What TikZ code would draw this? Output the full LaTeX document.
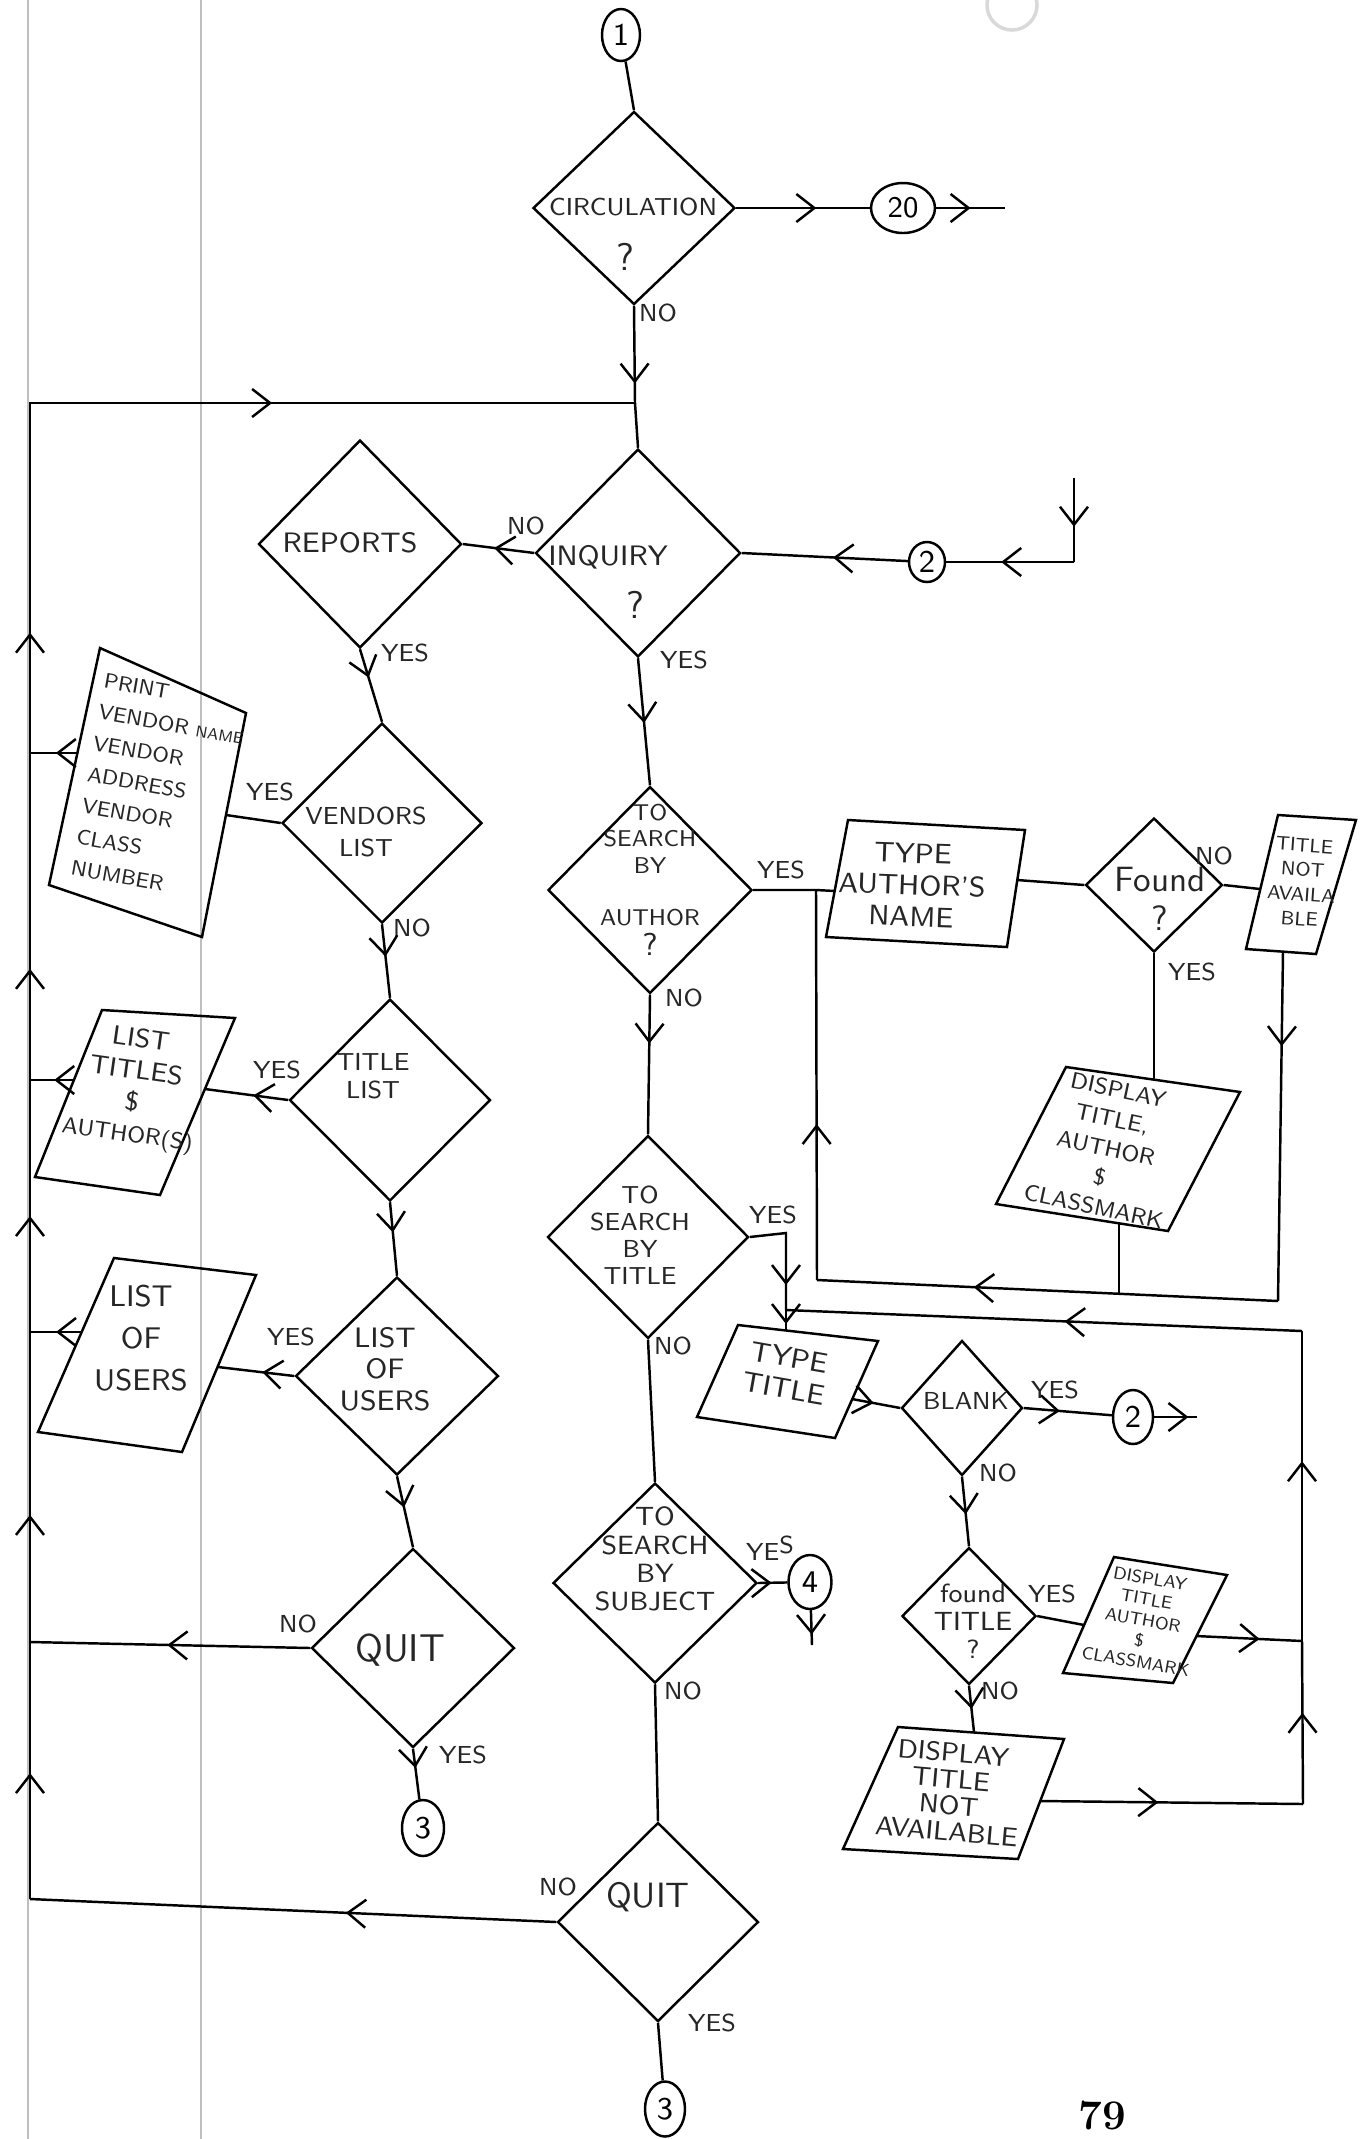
\documentclass[tikz,border=0pt]{standalone}
\usepackage{fontspec}
\usetikzlibrary{shapes.geometric,arrows.meta,decorations.markings}

\newcommand{\tsz}[2]{\fontsize{#1}{#2}\selectfont}

\begin{document}
\begin{tikzpicture}[x=0.1mm, y=-0.1mm, line width=0.7pt,
  >={Straight Barb[length=1.8mm,width=2.8mm]},
  dec/.style 2 args={diamond, draw, inner sep=0pt, minimum width=#1, minimum height=#2},
  con/.style 2 args={ellipse, draw, inner sep=0pt, minimum width=#1, minimum height=#2, font=\sffamily\tsz{9}{10}},
  txt/.style={font=\sffamily\tsz{7}{8}, align=center, inner sep=0pt, text=black!85},
  yn/.style={font=\sffamily\tsz{7}{8}, inner sep=0pt, text=black!85},
  fl/.style={postaction={decorate}, decoration={markings, mark=at position #1 with {\arrow{>}}}},
  fl2/.style 2 args={postaction={decorate}, decoration={markings, mark=at position #1 with {\arrow{>}}, mark=at position #2 with {\arrow{>}}}},
  marge/.style={black!25, line width=0.4pt}]

\fill[white] (0,0) rectangle (1363,2139);
\useasboundingbox (0,0) rectangle (1363,2139);

% Page margins
\draw[marge] (28,0) -- (28,2139);
\draw[marge] (201,0) -- (201,2139);
\draw[black!15, line width=1pt] (1012,5) circle [radius=2.5mm];

% Circulation
\node[con={3.8mm}{5.2mm}] (c1) at (621,35) {1};
\node[dec={20.2mm}{19.3mm}] (circ) at (634,208) {};
\node[txt] (circT) at (633,207) {CIRCULATION};
\node[txt, font=\sffamily\tsz{11}{11}] (circQ) at (625,257) {?};
\node[con={6.4mm}{5mm}, font=\sffamily\tsz{8.5}{9}] (c20) at (903,208) {20};
\coordinate (e20) at (1005,208);
\coordinate (J1) at (635,403);
\draw (c1) -- (circ.north);
\draw[fl=0.6] (circ.east) -- (c20);
\draw[fl=0.5] (c20) -- (e20);
\draw[fl=0.8] (circ.south) -- (J1);
\node[yn] (circNo) at (658,313) {NO};

% Inquiry
\node[dec={20.5mm}{20.8mm}] (inq) at (638,553) {};
\node[txt, font=\sffamily\tsz{8}{9}] (inqT) at (608,557) {INQUIRY};
\node[txt, font=\sffamily\tsz{11}{11}] (inqQ) at (635,605) {?};
\node[yn] (inqNo) at (526,526) {NO};
\node[yn] (inqYes) at (684,660) {YES};
\draw (J1) -- (inq.north);

% Reports
\node[dec={20.3mm}{20.8mm}] (rep) at (360,544) {};
\node[txt, font=\sffamily\tsz{8}{9}] (repT) at (350,543) {REPORTS};
\node[yn] (repYes) at (405,653) {YES};
\draw[fl=0.56] (inq.west) -- (rep.east);

% Connector 2 coming in from the right
\node[con={3.6mm}{4mm}] (c2a) at (927,562) {2};
\coordinate (e2t) at (1074,478);
\coordinate (e2c) at (1074,562);
\draw[fl=0.58] (e2t) -- (e2c);
\draw[fl=0.57] (e2c) -- (c2a);
\draw[fl=0.45] (c2a) -- (inq.east);

% Vendors list
\node[dec={20mm}{20mm}] (vend) at (382,823) {};
\node[txt, font=\sffamily\tsz{7}{9}] (vendT) at (366,832) {VENDORS\\LIST};
\node[yn] (vendYes) at (270,792) {YES};
\node[yn] (vendNo) at (412,928) {NO};
\draw[fl=0.39] (rep.south) -- (vend.north);

% Print box
\coordinate (pA) at (100,648);
\coordinate (pB) at (246,713);
\coordinate (pC) at (202,937);
\coordinate (pD) at (49,885);
\coordinate (pE) at (226,815);
\coordinate (pW) at (77,753);
\draw (pA) -- (pB) -- (pC) -- (pD) -- cycle;
\node[txt, align=left, rotate=-10, font=\sffamily\tsz{6}{9}] (printT) at (160,787)
  {PRINT\\VENDOR {\tsz{4.5}{9}NAME}\\VENDOR\\ADDRESS\\VENDOR\\CLASS\\NUMBER};
\draw (vend.west) -- (pE);

% Title list
\node[dec={20.1mm}{20.2mm}] (tlist) at (390,1100) {};
\node[txt] (tlistT) at (373,1076) {TITLE\\LIST};
\node[yn] (tlistYes) at (277,1070) {YES};
\draw[fl=0.44] (vend.south) -- (tlist.north);
\coordinate (tA) at (102,1010);
\coordinate (tB) at (235,1018);
\coordinate (tC) at (160,1195);
\coordinate (tD) at (35,1177);
\coordinate (tE) at (205,1089);
\coordinate (tW) at (74,1080);
\draw (tA) -- (tB) -- (tC) -- (tD) -- cycle;
\node[txt, rotate=-8, font=\sffamily\tsz{7.5}{9}] (tboxT) at (134,1088)
  {LIST\\TITLES\\\$\\{\tsz{6.5}{9}AUTHOR(S)}};
\draw[fl=0.42] (tlist.west) -- (tE);

% List of users
\node[dec={20.3mm}{19.8mm}] (ulist) at (397,1376) {};
\node[txt, font=\sffamily\tsz{8}{9}] (ulistT) at (385,1369) {LIST\\OF\\USERS};
\node[yn] (ulistYes) at (291,1337) {YES};
\draw[fl=0.41] (tlist.south) -- (ulist.north);
\coordinate (uA) at (114,1258);
\coordinate (uB) at (256,1275);
\coordinate (uC) at (182,1452);
\coordinate (uD) at (38,1432);
\coordinate (uE) at (218,1367);
\coordinate (uW) at (82,1332);
\draw (uA) -- (uB) -- (uC) -- (uD) -- cycle;
\node[txt, font=\sffamily\tsz{8.5}{12}] (uboxT) at (141,1338) {LIST\\OF\\USERS};
\draw[fl=0.42] (ulist.west) -- (uE);

% Quit (left)
\node[dec={20.3mm}{19.9mm}] (quitA) at (413,1648) {};
\node[txt, font=\sffamily\tsz{11}{12}] (quitAT) at (400,1650) {QUIT};
\node[yn] (quitANo) at (298,1624) {NO};
\node[yn] (quitAYes) at (463,1755) {YES};
\draw[fl=0.44] (ulist.south) -- (quitA.north);
\node[con={4.2mm}{5.6mm}] (c3a) at (423,1828) {3};
\draw[fl=0.38] (quitA.south) -- (c3a);

% Search by author
\node[dec={20.4mm}{20.7mm}] (auth) at (650,890) {};
\node[txt, font=\sffamily\tsz{6.5}{7.5}] (authT) at (650,880)
  {TO\\SEARCH\\BY\\[7.5pt]AUTHOR\\[1pt]{\tsz{9}{9}?}};
\node[yn] (authYes) at (781,870) {YES};
\node[yn] (authNo) at (684,998) {NO};
\draw[fl=0.51] (inq.south) -- (auth.north);
\coordinate (Ja) at (816,890);
\coordinate (aA) at (848,820);
\coordinate (aB) at (1025,830);
\coordinate (aC) at (1007,947);
\coordinate (aD) at (826,937);
\coordinate (aW) at (835,891);
\coordinate (aE) at (1017,880);
\draw (aA) -- (aB) -- (aC) -- (aD) -- cycle;
\node[txt, font=\sffamily\tsz{8}{9}, rotate=-2] (aboxT) at (912,885) {TYPE\\AUTHOR'S\\NAME};
\draw (auth.east) -- (Ja) -- (aW);

% Found ?
\node[dec={13.7mm}{13.4mm}] (found) at (1154,885) {};
\node[txt, font=\sffamily\tsz{10}{11}] (foundT) at (1160,899) {Found\\?};
\node[yn] (foundNo) at (1214,856) {NO};
\node[yn] (foundYes) at (1192,972) {YES};
\draw (aE) -- (found.west);
\coordinate (nA) at (1278,815);
\coordinate (nB) at (1356,820);
\coordinate (nC) at (1316,954);
\coordinate (nD) at (1246,949);
\coordinate (nW) at (1260,889);
\coordinate (nS) at (1283,952);
\draw (nA) -- (nB) -- (nC) -- (nD) -- cycle;
\node[txt, font=\sffamily\tsz{5.5}{7}, rotate=-4] (nboxT) at (1302,882) {TITLE\\NOT\\AVAILA\\BLE};
\draw (found.east) -- (nW);

% Display title, author, classmark
\coordinate (dA) at (1066,1067);
\coordinate (dB) at (1240,1092);
\coordinate (dC) at (1168,1231);
\coordinate (dD) at (996,1204);
\coordinate (dN) at (1154,1080);
\coordinate (dS) at (1119,1223);
\draw (dA) -- (dB) -- (dC) -- (dD) -- cycle;
\node[txt, font=\sffamily\tsz{6.5}{8.5}, rotate=-12] (d1T) at (1106,1148)
  {DISPLAY\\TITLE,\\AUTHOR\\\$\\CLASSMARK};
\draw (found.south) -- (dN);

% Loop back to type author's name
\coordinate (Jc) at (1278,1301);
\coordinate (Jd) at (1119,1294);
\coordinate (Jb) at (817,1280);
\draw[fl=0.27] (nS) -- (Jc);
\draw (dS) -- (Jd);
\draw[fl=0.66] (Jc) -- (Jb);
\draw[fl=0.4] (Jb) -- (Ja);

% Search by title
\node[dec={20.1mm}{20.3mm}] (stitle) at (648,1237) {};
\node[txt, font=\sffamily\tsz{7}{7.7}] (stitleT) at (640,1235) {TO\\SEARCH\\BY\\TITLE};
\node[yn] (stitleYes) at (773,1215) {YES};
\node[yn] (stitleNo) at (673,1346) {NO};
\draw[fl=0.35] (auth.south) -- (stitle.north);
\coordinate (Tc) at (786,1233);
\coordinate (J3) at (786,1310);
\coordinate (ttA) at (738,1325);
\coordinate (ttB) at (878,1341);
\coordinate (ttC) at (835,1438);
\coordinate (ttD) at (697,1417);
\coordinate (ttN) at (786,1330);
\coordinate (ttE) at (852,1399);
\draw (ttA) -- (ttB) -- (ttC) -- (ttD) -- cycle;
\node[txt, font=\sffamily\tsz{8}{9}, rotate=-10] (ttT) at (787,1373) {TYPE\\TITLE};
\draw[fl=0.78] (stitle.east) -- (Tc) -- (J3);
\draw[fl=0.7] (J3) -- (ttN);

% Right loop back to type title
\coordinate (Rt) at (1302,1331);
\coordinate (Rm) at (1302,1641);
\coordinate (Rb) at (1303,1804);
\draw[fl=0.56] (Rb) -- (Rm);
\draw[fl=0.58] (Rm) -- (Rt);
\draw[fl=0.46] (Rt) -- (J3);

% Blank
\node[dec={12.1mm}{13.5mm}] (blank) at (962,1408) {};
\node[txt] (blankT) at (966,1401) {BLANK};
\node[yn] (blankYes) at (1055,1390) {YES};
\node[yn] (blankNo) at (998,1473) {NO};
\draw[fl=0.45] (ttE) -- (blank.west);
\node[con={4mm}{5.4mm}] (c2b) at (1133,1417) {2};
\coordinate (e2b) at (1197,1417);
\draw[fl=0.41] (blank.east) -- (c2b);
\draw[fl=0.8] (c2b) -- (e2b);

% Found title
\node[dec={13.4mm}{13.7mm}] (ftitle) at (969,1616) {};
\node[txt, font=\sffamily\tsz{7.5}{8}] (ftitleT) at (973,1621) {found\\TITLE\\?};
\node[yn] (ftitleYes) at (1052,1594) {YES};
\node[yn] (ftitleNo) at (1000,1691) {NO};
\draw[fl=0.54] (blank.south) -- (ftitle.north);
\coordinate (eA) at (1114,1557);
\coordinate (eB) at (1227,1575);
\coordinate (eC) at (1173,1683);
\coordinate (eD) at (1063,1673);
\coordinate (eW) at (1084,1625);
\coordinate (eE) at (1196,1636);
\draw (eA) -- (eB) -- (eC) -- (eD) -- cycle;
\node[txt, font=\sffamily\tsz{5}{6}, rotate=-10] (d2T) at (1143,1620)
  {DISPLAY\\TITLE\\AUTHOR\\\$\\CLASSMARK};
\draw (ftitle.east) -- (eW);
\draw[fl=0.6] (eE) -- (Rm);

% Display title not available
\coordinate (fA) at (898,1727);
\coordinate (fB) at (1064,1739);
\coordinate (fC) at (1018,1859);
\coordinate (fD) at (843,1849);
\coordinate (fN) at (974,1732);
\coordinate (fE) at (1040,1801);
\draw (fA) -- (fB) -- (fC) -- (fD) -- cycle;
\node[txt, font=\sffamily\tsz{7.5}{7.5}, rotate=-5] (d3T) at (950,1792)
  {DISPLAY\\TITLE\\NOT\\AVAILABLE};
\draw[fl=0.5] (ftitle.south) -- (fN);
\draw[fl=0.45] (fE) -- (Rb);

% Search by subject
\node[dec={20.4mm}{20mm}] (subj) at (655,1583) {};
\node[txt, font=\sffamily\tsz{7.5}{8}] (subjT) at (655,1559) {TO\\SEARCH\\BY\\SUBJECT};
\node[yn] (subjYes) at (770,1548) {YE\raisebox{2pt}{S}};
\node[yn] (subjNo) at (683,1691) {NO};
\draw (stitle.south) -- (subj.north);
\node[con={4.3mm}{5.4mm}] (c4) at (810,1582) {4};
\coordinate (e4) at (812,1645);
\draw[fl=0.46] (subj.east) -- (c4);
\draw[fl=0.7] (c4) -- (e4);

% Quit (bottom)
\node[dec={20.1mm}{19.9mm}] (quitB) at (658,1922) {};
\node[txt, font=\sffamily\tsz{10}{11}] (quitBT) at (648,1897) {QUIT};
\node[yn] (quitBNo) at (558,1887) {NO};
\node[yn] (quitBYes) at (712,2023) {YES};
\draw (subj.south) -- (quitB.north);
\node[con={4mm}{5.5mm}] (c3b) at (665,2109) {3};
\draw (quitB.south) -- (c3b);

% Return line on the left
\coordinate (L0) at (30,403);
\coordinate (L1) at (30,753);
\coordinate (L2) at (30,1080);
\coordinate (L3) at (30,1332);
\coordinate (L4) at (30,1642);
\coordinate (L5) at (30,1899);
\draw[fl=0.49] (L5) -- (L4);
\draw[fl=0.41] (L4) -- (L3);
\draw[fl=0.46] (L3) -- (L2);
\draw[fl=0.34] (L2) -- (L1);
\draw[fl2={0.126}{0.62}] (L1) -- (L0) -- (J1);
\draw[fl=0.45] (pW) -- (L1);
\draw[fl=0.45] (tW) -- (L2);
\draw[fl=0.5] (uW) -- (L3);
\draw[fl=0.51] (quitA.west) -- (L4);
\draw[fl=0.4] (quitB.west) -- (L5);

% Page number
\node[font=\rmfamily\bfseries\tsz{12}{12}] (pg) at (1102,2115) {79};

\end{tikzpicture}
\end{document}
